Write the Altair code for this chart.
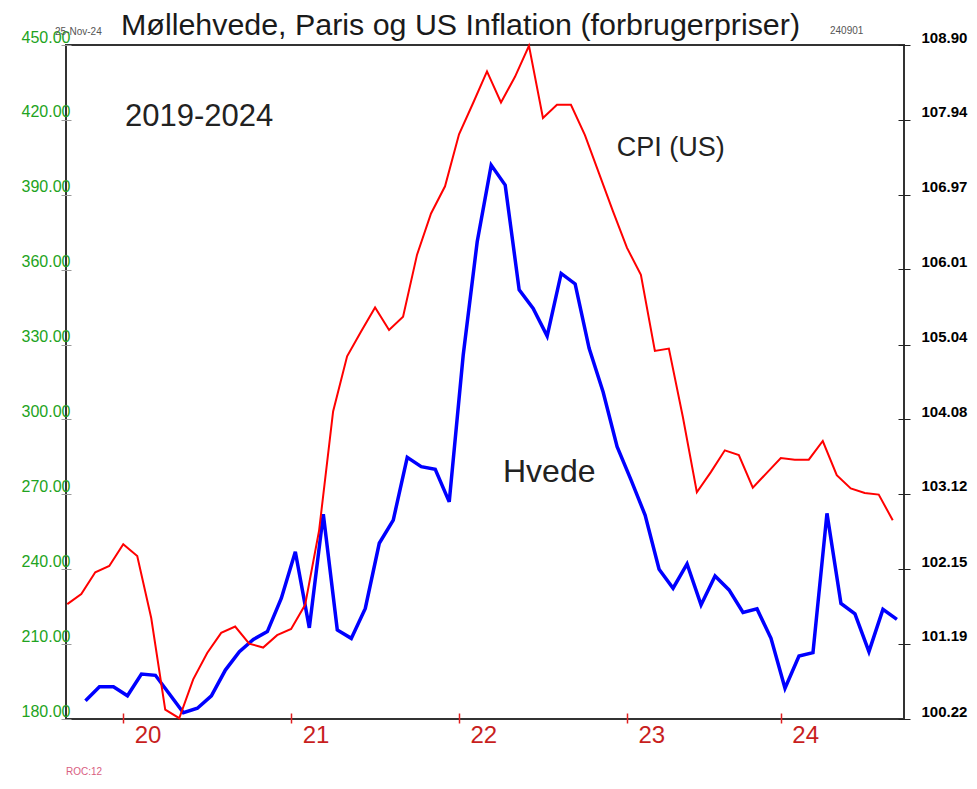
import json
import altair as alt
import pandas as pd

# ---- data ----
start_year, start_month = 2019, 9          # first CPI month (Sep 2019)
cpi = [101.70, 101.83, 102.11, 102.19, 102.47, 102.32, 101.52, 100.34, 100.23, 100.73,
       101.07, 101.33, 101.41, 101.19, 101.14, 101.30, 101.38, 101.69, 102.65, 104.18,
       104.89, 105.21, 105.52, 105.23, 105.40, 106.20, 106.73, 107.08, 107.75, 108.15,
       108.56, 108.16, 108.49, 108.89, 107.96, 108.13, 108.13, 107.74, 107.25, 106.76,
       106.29, 105.94, 104.96, 104.99, 104.11, 103.14, 103.40, 103.68, 103.62, 103.20,
       103.39, 103.58, 103.56, 103.56, 103.80, 103.36, 103.19, 103.13, 103.11, 102.78]
wheat_lag = 1.3                            # wheat series starts ~1.3 months after CPI
wheat = [187.3, 192.9, 192.9, 189.3, 198.0, 197.5, 190.0, 182.5, 184.3, 189.3,
         199.6, 207.0, 211.9, 215.0, 228.4, 247.0, 216.5, 262.0, 215.7, 212.3,
         224.3, 250.4, 259.7, 284.8, 281.1, 280.0, 267.0, 325.8, 371.2, 401.9,
         393.9, 351.9, 344.5, 333.4, 358.5, 354.3, 328.5, 311.0, 289.1, 275.7,
         261.7, 240.0, 232.4, 242.1, 225.7, 237.3, 231.7, 222.7, 224.1, 212.3,
         192.3, 205.2, 206.6, 262.4, 226.3, 222.1, 207.0, 223.9, 219.9]

left_ticks = [180, 210, 240, 270, 300, 330, 360, 390, 420, 450]
right_ticks = [100.22, 101.19, 102.15, 103.12, 104.08, 105.04, 106.01, 106.97, 107.94, 108.90]
year_ticks = [2020.0, 2021.0, 2022.0, 2023.0, 2023.917]
year_labels = ["20", "21", "22", "23", "24"]

title_text = "Møllehvede, Paris og US Inflation (forbrugerpriser)"
notes = [  # label, year position, value on left scale, font size
    ("2019-2024", 2020.01, 417.6, 31),
    ("CPI (US)", 2022.94, 405.5, 27),
    ("Hvede", 2022.262, 274.9, 32),
]

# ---- tables ----
t0 = start_year + (start_month - 1) / 12
cpi_df = pd.DataFrame({"t": [t0 + i / 12 for i in range(len(cpi))], "cpi": cpi})
wheat_df = pd.DataFrame({"t": [t0 + (i + wheat_lag) / 12 for i in range(len(wheat))], "wheat": wheat})

FONT = "Liberation Sans"
xscale = alt.Scale(domain=[2019.659, 2024.6505], nice=False, zero=False)
lscale = alt.Scale(domain=[180, 450], nice=False, zero=False)
rscale = alt.Scale(domain=[100.22, 108.90], nice=False, zero=False)

label_expr = "{}[indexof({}, datum.value)]".format(json.dumps(year_labels), json.dumps(year_ticks))
xaxis = alt.Axis(values=year_ticks, labelExpr=label_expr, title=None, domain=False,
                 grid=False, offset=-6, tickSize=10, tickColor="#e02020", tickWidth=1.5,
                 labelColor="#c81e1e", labelFontSize=24, labelFont=FONT, labelAlign="left",
                 labelBaseline="top", labelOffset=11, labelPadding=0, labelFlush=False,
                 labelOverlap=False)
laxis = alt.Axis(values=left_ticks, format=".2f", title=None, domain=False, grid=False,
                 orient="left", offset=-5, tickSize=10, tickColor="#9a9a9a", tickWidth=1,
                 labelColor="#21a321", labelFontSize=16, labelFont=FONT, labelAlign="right",
                 labelBaseline="bottom", labelPadding=-9, labelOverlap=False, labelBound=False)
raxis = alt.Axis(values=right_ticks, format=".2f", title=None, domain=False, grid=False,
                 orient="right", offset=-6, tickSize=12, tickColor="#222222", tickWidth=1,
                 labelColor="#000000", labelFontSize=15, labelFont=FONT, labelFontWeight="bold",
                 labelAlign="left", labelBaseline="bottom", labelPadding=11, labelOverlap=False,
                 labelBound=False)

blue = alt.Chart(wheat_df).mark_line(color="#0000ff", strokeWidth=3.5).encode(
    x=alt.X("t:Q", scale=xscale, axis=xaxis),
    y=alt.Y("wheat:Q", scale=lscale, axis=laxis),
)
red = alt.Chart(cpi_df).mark_line(color="#ff0000", strokeWidth=2).encode(
    x=alt.X("t:Q", scale=xscale, axis=xaxis),
    y=alt.Y("cpi:Q", scale=rscale, axis=raxis),
)

layers = [blue, red]
for label, tpos, val, size in notes:
    d = pd.DataFrame({"t": [tpos], "v": [val], "label": [label]})
    layers.append(
        alt.Chart(d).mark_text(align="left", baseline="alphabetic", fontSize=size, font=FONT,
                               color="#222222").encode(
            x=alt.X("t:Q", scale=xscale, axis=xaxis),
            y=alt.Y("v:Q", scale=lscale, axis=None),
            text="label:N",
        )
    )

small = [("25-Nov-24", -11, -10, "#555555"), ("240901", 764, -11, "#555555"),
         ("ROC:12", 0, 730, "#d9607f")]
for label, px, py, col in small:
    layers.append(
        alt.Chart(alt.Data(values=[{"a": 1}])).mark_text(
            text=label, align="left", baseline="alphabetic", fontSize=10, font=FONT,
            color=col).encode(x=alt.value(px), y=alt.value(py))
    )

chart = alt.layer(*layers).resolve_scale(y="independent").properties(
    width=838, height=674,
    title=alt.Title(title_text, anchor="start", frame="group", dx=55, dy=17, fontSize=30.4,
                    font=FONT, fontWeight="normal", color="#1a1a1a", offset=2),
    autosize=alt.AutoSizeParams(type="none"),
    padding={"left": 58, "top": 37, "right": 65, "bottom": 57},
).configure(
    background="white",
    view=alt.ViewConfig(stroke="#333333", strokeWidth=2),
)

chart.save("out.html", embed_options={"renderer": "svg", "actions": False})
